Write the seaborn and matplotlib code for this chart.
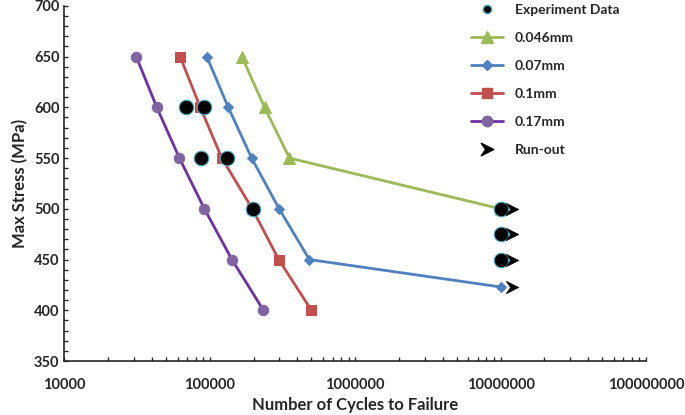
import numpy as np
import pandas as pd
import seaborn as sns
import matplotlib.pyplot as plt
from matplotlib.path import Path
from matplotlib.ticker import LogLocator, MultipleLocator, FixedLocator
from matplotlib.lines import Line2D

sns.set_style('ticks')
plt.rcParams['font.family'] = ['Lato', 'DejaVu Sans']

# data
stress_046 = [650, 600, 550, 500]
cycles_046 = [166000, 238000, 353000, 10000000]
stress_07 = [650, 600, 550, 500, 450, 423]
cycles_07 = [95300, 134000, 194000, 300000, 484000, 10000000]
stress_01 = [650, 600, 550, 500, 450, 400]
cycles_01 = [62500, 86000, 121000, 196000, 298000, 500000]
stress_017 = [650, 600, 550, 500, 450, 400]
cycles_017 = [31200, 43200, 61800, 91800, 142000, 234000]
exp_stress = [600, 600, 550, 550, 500, 500, 475, 450]
exp_cycles = [68700, 91800, 86700, 132000, 197000, 10000000, 10000000, 10000000]
runout_stress = [500, 475, 450, 423]
runout_cycles = [12000000, 12000000, 12000000, 12000000]

series = [
    ('0.046mm', cycles_046, stress_046, '#9BBB59', '#9BBB59', '^', 8),
    ('0.07mm', cycles_07, stress_07, '#4F81BD', '#4F81BD', 'D', 5),
    ('0.1mm', cycles_01, stress_01, '#C0504D', '#C0504D', 's', 7.5),
    ('0.17mm', cycles_017, stress_017, '#7030A0', '#8064A2', 'o', 7.5),
]

arrow = Path([(-1, 1), (1, 0), (-1, -1), (-0.3, 0), (-1, 1)],
             [Path.MOVETO, Path.LINETO, Path.LINETO, Path.LINETO, Path.CLOSEPOLY])

fig = plt.figure(figsize=(6.85, 4.15), dpi=100)
ax = fig.add_axes([0.094, 0.130, 0.849, 0.856])

handles = []
for name, x, y, lc, mc, mk, ms in series:
    df = pd.DataFrame({'cycles': x, 'stress': y})
    sns.lineplot(data=df, x='cycles', y='stress', ax=ax, color=lc, lw=2,
                 marker=mk, markersize=ms, markerfacecolor=mc, markeredgecolor=mc,
                 sort=False, estimator=None)
    handles.append(Line2D([], [], color=lc, lw=2, marker=mk, markersize=ms,
                          markerfacecolor=mc, markeredgecolor=mc, label=name))

exp_df = pd.DataFrame({'cycles': exp_cycles, 'stress': exp_stress})
sns.scatterplot(data=exp_df, x='cycles', y='stress', ax=ax, color='black',
                s=110, edgecolor='#4BACC6', linewidth=0.8, zorder=5)
run_df = pd.DataFrame({'cycles': runout_cycles, 'stress': runout_stress})
sns.scatterplot(data=run_df, x='cycles', y='stress', ax=ax, color='black',
                marker=arrow, s=80, edgecolor='black', linewidth=0.5, zorder=6)

h_exp = Line2D([], [], ls='none', marker='o', color='black', markersize=6,
               markeredgecolor='#4BACC6', label='Experiment Data')
h_run = Line2D([], [], ls='none', marker=arrow, color='black', markersize=9,
               label='Run-out')
fig.legend(handles=[h_exp] + handles + [h_run], loc='upper left',
           bbox_to_anchor=(0.670, 1.02), frameon=False, handlelength=2.3,
           labelspacing=1.15, prop={'weight': 'bold', 'size': 10})

ax.set_xscale('log')
ax.set_xlim(1e4, 1e8)
ax.set_ylim(350, 700)
ax.xaxis.set_major_locator(FixedLocator([1e4, 1e5, 1e6, 1e7, 1e8]))
ax.xaxis.set_minor_locator(LogLocator(base=10, subs=np.arange(2, 10), numticks=20))
ax.set_xticklabels(['10000', '100000', '1000000', '10000000', '100000000'])
ax.yaxis.set_major_locator(MultipleLocator(50))
ax.yaxis.set_minor_locator(MultipleLocator(10))
ax.tick_params(which='both', direction='in', length=3, width=1, labelsize=10.5)
ax.tick_params(axis='x', pad=12)
for lab in ax.get_xticklabels() + ax.get_yticklabels():
    lab.set_fontweight('bold')
sns.despine(ax=ax)
ax.spines['left'].set_linewidth(1.2)
ax.spines['bottom'].set_linewidth(1.2)

ax.set_xlabel('Number of Cycles to Failure', fontsize=12, fontweight='bold', labelpad=4)
ax.set_ylabel('Max Stress (MPa)', fontsize=12, fontweight='bold', labelpad=4)

fig.savefig('out.png', dpi=100)
